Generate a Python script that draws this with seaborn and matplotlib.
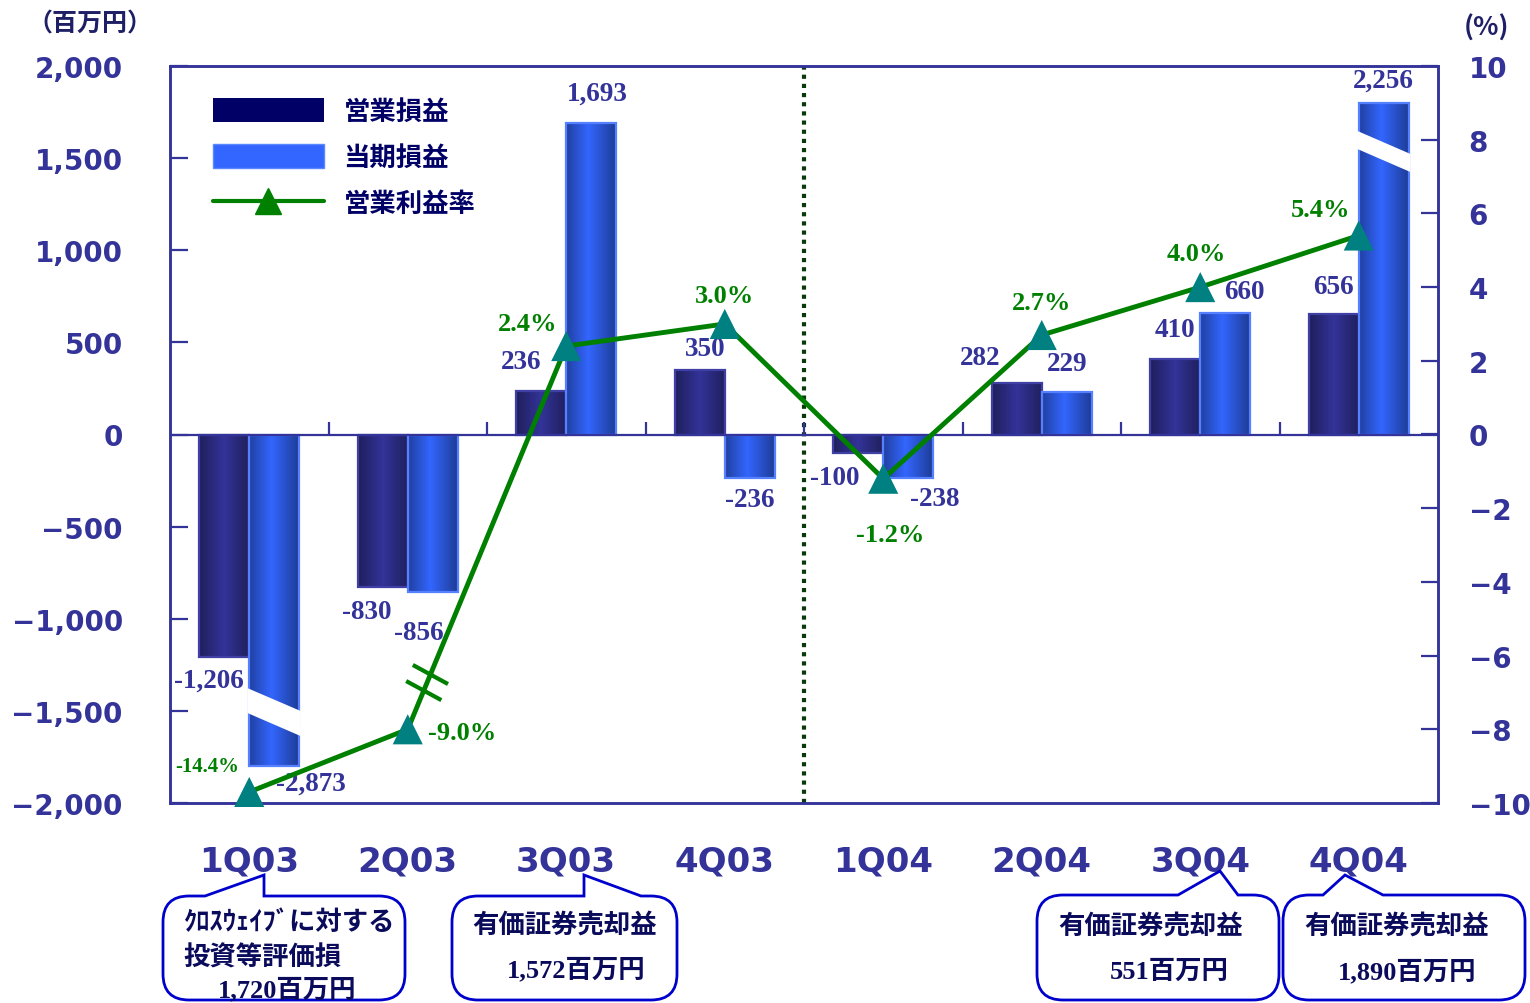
import numpy as np
import pandas as pd
import matplotlib
matplotlib.use("Agg")
import matplotlib.pyplot as plt
import seaborn as sns
from matplotlib.patches import Patch, PathPatch, Polygon
from matplotlib.lines import Line2D
from matplotlib.path import Path
from matplotlib.colors import LinearSegmentedColormap
from matplotlib.ticker import FuncFormatter
import matplotlib.transforms as mtransforms

# ---------------- data ----------------
quarters = ["1Q03", "2Q03", "3Q03", "4Q03", "1Q04", "2Q04", "3Q04", "4Q04"]
operating_profit = [-1206, -830, 236, 350, -100, 282, 410, 656]
net_profit = [-2873, -856, 1693, -236, -238, 229, 660, 2256]
net_bar_drawn = [-1800, -856, 1693, -236, -238, 229, 660, 1800]   # bars cut by break marks
operating_margin = [-14.4, -9.0, 2.4, 3.0, -1.2, 2.7, 4.0, 5.4]
margin_drawn = [-9.7, -8.0, 2.4, 3.0, -1.2, 2.7, 4.0, 5.4]        # line compressed below break
series_names = ["営業損益", "当期損益", "営業利益率"]
left_ticks = [-2000, -1500, -1000, -500, 0, 500, 1000, 1500, 2000]
right_ticks = [-10, -8, -6, -4, -2, 0, 2, 4, 6, 8, 10]
left_unit = "（百万円）"
right_unit = "(%)"
callout_texts = [
    ["ｸﾛｽｳｪｲﾌﾞに対する", "投資等評価損", "1,720百万円"],
    ["有価証券売却益", "1,572百万円"],
    ["有価証券売却益", "551百万円"],
    ["有価証券売却益", "1,890百万円"],
]

# ---------------- style ----------------
sns.set_style("white")
plt.rcParams["font.family"] = ["Noto Sans CJK JP", "DejaVu Sans"]
plt.rcParams["axes.unicode_minus"] = True

NAVY = "#333399"
DARK = "#000066"
BLUE = "#3366FF"
GREEN = "#008000"
TEAL = "#008080"
TXT = "#0b0b5c"

W, H = 1530, 1004
fig = plt.figure(figsize=(W / 100, H / 100), dpi=100)
fig.patch.set_facecolor("white")


def fx(x):
    return x / W


def fy(y):
    return 1 - y / H


ax = fig.add_axes([fx(170), fy(804), (1438 - 170) / W, (804 - 67) / H])

df = pd.DataFrame({
    "quarter": quarters * 2,
    "series": [series_names[0]] * 8 + [series_names[1]] * 8,
    "value": operating_profit + net_bar_drawn,
})
sns.barplot(data=df, x="quarter", y="value", hue="series",
            hue_order=series_names[:2], palette=[DARK, BLUE],
            width=0.63, dodge=True, legend=False, saturation=1,
            ax=ax, zorder=2)
ax.set_xlabel("")
ax.set_ylabel("")

# gradient fill for bars
cmaps = [
    LinearSegmentedColormap.from_list("d", [(0, "#1f1f5c"), (0.5, "#333399"), (1, "#20205e")]),
    LinearSegmentedColormap.from_list("b", [(0, "#2040a0"), (0.45, "#3366ff"), (1, "#1e3c96")]),
]
edgecols = ["#3f3fa6", "#5580ff"]
grad = np.linspace(0, 1, 256).reshape(1, -1)
for ci, cont in enumerate(ax.containers):
    for bar in cont:
        x0, w = bar.get_x(), bar.get_width()
        y0, h = bar.get_y(), bar.get_height()
        ext = [x0, x0 + w, min(y0, y0 + h), max(y0, y0 + h)]
        im = ax.imshow(grad, cmap=cmaps[ci], extent=ext, aspect="auto",
                       interpolation="bicubic", origin="lower", zorder=2.4)
        im.set_clip_path(bar)
        bar.set_facecolor("none")
        bar.set_edgecolor(edgecols[ci])
        bar.set_linewidth(1.6)
        bar.set_zorder(2.6)

ax.set_aspect("auto")
ax.set_xlim(-0.5, 7.5)
ax.set_ylim(-2000, 2000)

# break bands on the two truncated net-profit bars (left-top, left-bottom, right-top, right-bottom)
break_bands = {0: (-1377, -1512, -1501, -1637), 7: (1648, 1550, 1523, 1425)}
net_bars = ax.containers[1]
for idx, (lt, lb, rt, rb) in break_bands.items():
    b = net_bars[idx]
    x0, x1 = b.get_x() - 0.01, b.get_x() + b.get_width() + 0.01
    ax.add_patch(Polygon([(x0, lt), (x1, rt), (x1, rb), (x0, lb)], closed=True,
                         facecolor="white", edgecolor="none", zorder=2.8))

# zero line, x ticks on zero line, dotted divider
ax.axhline(0, color=NAVY, lw=1.6, zorder=3)
ax.vlines(np.arange(0.5, 7.0, 1.0), 0, 70, color=NAVY, lw=1.6, zorder=3)
ax.axvline(3.5, color="#0a3a0a", lw=3, linestyle=(0, (1, 1.2)), zorder=1.5)

# axes styling
ax.set_yticks(left_ticks)
ax.yaxis.set_major_formatter(FuncFormatter(lambda v, p: f"{v:,.0f}".replace("-", "\u2212")))
ax.tick_params(axis="y", direction="in", length=13, width=1.6, color=NAVY, pad=34,
               labelcolor=NAVY, labelsize=20)
for lab in ax.get_yticklabels():
    lab.set_fontfamily("DejaVu Sans")
    lab.set_fontweight("bold")
ax.set_xticks(range(len(quarters)))
ax.set_xticklabels(quarters)
ax.tick_params(axis="x", length=0, pad=30, labelcolor=NAVY, labelsize=24.5)
for lab in ax.get_xticklabels():
    lab.set_fontfamily("DejaVu Sans")
    lab.set_fontweight("bold")
for s in ax.spines.values():
    s.set_color(NAVY)
    s.set_linewidth(1.8)
    s.set_visible(True)

# bar labels
op_offsets = [(-15, -23), (-16, -24), (-20, 30), (5, 22), (-24, -25), (-37, 25), (0, 29), (0, 27)]
net_offsets = [(37, -17), (-14, -40), (6, 29), (0, -22), (27, -20), (0, 29), (19, 21), (0, 23)]
for cont, vals, drawn, offs in [(ax.containers[0], operating_profit, operating_profit, op_offsets),
                                (ax.containers[1], net_profit, net_bar_drawn, net_offsets)]:
    for bar, v, d, (dx, dy) in zip(cont, vals, drawn, offs):
        xc = bar.get_x() + bar.get_width() / 2
        ax.annotate(f"{v:,}", xy=(xc, d), xytext=(dx, dy), textcoords="offset pixels",
                    ha="center", va="center", fontsize=19.5, fontweight="bold",
                    family="Liberation Serif", color=NAVY, zorder=6, annotation_clip=False)

# secondary axis: operating margin line
ax2 = ax.twinx()
xs = np.arange(len(quarters))
sns.lineplot(x=xs, y=margin_drawn, ax=ax2, color=GREEN, lw=3.5, zorder=4)
sns.scatterplot(x=xs, y=margin_drawn, ax=ax2, marker="^", s=470, color=TEAL,
                edgecolor="none", linewidth=0, zorder=5, clip_on=False)
ax2.set_ylim(-10, 10)
ax2.set_xlim(-0.5, 7.5)
ax2.set_ylabel("")
ax2.set_yticks(right_ticks)
ax2.yaxis.set_major_formatter(FuncFormatter(lambda v, p: f"{v:.0f}".replace("-", "\u2212")))
ax2.tick_params(axis="y", direction="in", length=12, width=1.6, color=NAVY, pad=22,
                labelcolor=NAVY, labelsize=20)
for lab in ax2.get_yticklabels():
    lab.set_fontfamily("DejaVu Sans")
    lab.set_fontweight("bold")
    lab.set_horizontalalignment("left")
for s in ax2.spines.values():
    s.set_color(NAVY)
    s.set_linewidth(1.8)

pct_offsets = [(-42, 26), (54, -3), (-39, 23), (0, 28), (7, -56), (0, 33), (-4, 34), (-38, 26)]
pct_sizes = [15, 19, 19, 19, 19, 19, 19, 19]
for x, v, d, (dx, dy), fs in zip(xs, operating_margin, margin_drawn, pct_offsets, pct_sizes):
    ax2.annotate(f"{v:.1f}%", xy=(x, d), xytext=(dx, dy), textcoords="offset pixels",
                 ha="center", va="center", fontsize=fs, fontweight="bold",
                 family="Liberation Serif", color=GREEN, zorder=7, annotation_clip=False)

# break marks on the margin line between 2Q03 and 3Q03
p1 = ax2.transData.transform((1, margin_drawn[1]))
p2 = ax2.transData.transform((2, margin_drawn[2]))
ang = np.deg2rad(-28.5)
u = np.array([np.cos(ang), np.sin(ang)])
for t in (0.101, 0.143):
    c = p1 + t * (p2 - p1)
    a, b = c - 20 * u, c + 20 * u
    ax2.add_line(Line2D([a[0], b[0]], [a[1], b[1]], transform=mtransforms.IdentityTransform(),
                        color=GREEN, lw=3, clip_on=False, zorder=6, solid_capstyle="butt"))

# legend
handles = [
    Patch(facecolor=DARK, edgecolor="none"),
    Patch(facecolor=BLUE, edgecolor="#5c88ff"),
    Line2D([0], [0], color=GREEN, lw=3, marker="^", markersize=19,
           markerfacecolor=GREEN, markeredgecolor=GREEN),
]
leg = ax2.legend(handles, series_names, loc="upper left",
                 bbox_to_anchor=(fx(213), fy(99)), bbox_transform=fig.transFigure,
                 frameon=False, prop=dict(family="Noto Sans CJK JP", weight="bold", size=19),
                 labelcolor=DARK, handlelength=4.2, handleheight=1.0, handletextpad=0.75,
                 labelspacing=0.72, borderpad=0, borderaxespad=0)

# unit labels
fig.text(fx(90), fy(25), left_unit, ha="center", va="center", fontsize=18,
         fontweight="bold", color="#1f1f66", family=["Noto Sans CJK JP"])
fig.text(fx(1487), fy(28), right_unit, ha="center", va="center", fontsize=19,
         fontweight="bold", color="#1f1f66", family=["Noto Sans CJK JP"])


# callout bubbles
def bubble(left, right, top, bottom, pl, tip, pr, r=26):
    verts = [(pl, top), tip, (pr, top), (right - r, top), (right, top), (right, top + r),
             (right, bottom - r), (right, bottom), (right - r, bottom), (left + r, bottom),
             (left, bottom), (left, bottom - r), (left, top + r), (left, top), (left + r, top),
             (pl, top)]
    codes = [Path.MOVETO, Path.LINETO, Path.LINETO, Path.LINETO, Path.CURVE3, Path.CURVE3,
             Path.LINETO, Path.CURVE3, Path.CURVE3, Path.LINETO, Path.CURVE3, Path.CURVE3,
             Path.LINETO, Path.CURVE3, Path.CURVE3, Path.CLOSEPOLY]
    verts = [(fx(x), fy(y)) for x, y in verts]
    fig.add_artist(PathPatch(Path(verts, codes), facecolor="white", edgecolor="#0000cc",
                             lw=2, transform=fig.transFigure, zorder=1))


bubble(163, 405, 897, 1001, 205, (264, 876), 264)
bubble(452, 677, 897, 1001, 584, (584, 876), 641)
bubble(1037, 1279, 896, 1001, 1178, (1220, 872), 1238)
bubble(1283, 1525, 896, 1001, 1323, (1345, 876), 1383)

text_pos = [
    [(183, 923), (183, 958), (218, 990)],
    [(472, 925), (507, 970)],
    [(1058, 926), (1110, 972)],
    [(1304, 926), (1338, 972)],
]
for lines, poss in zip(callout_texts, text_pos):
    for s, (x, y) in zip(lines, poss):
        fam = ["Liberation Serif", "Noto Sans CJK JP"] if s[0].isdigit() else ["Noto Sans CJK JP"]
        fig.text(fx(x), fy(y), s, ha="left", va="center", fontsize=19,
                 fontweight="bold", color=TXT, family=fam, zorder=2)

fig.savefig("out.png", dpi=100, facecolor="white")
